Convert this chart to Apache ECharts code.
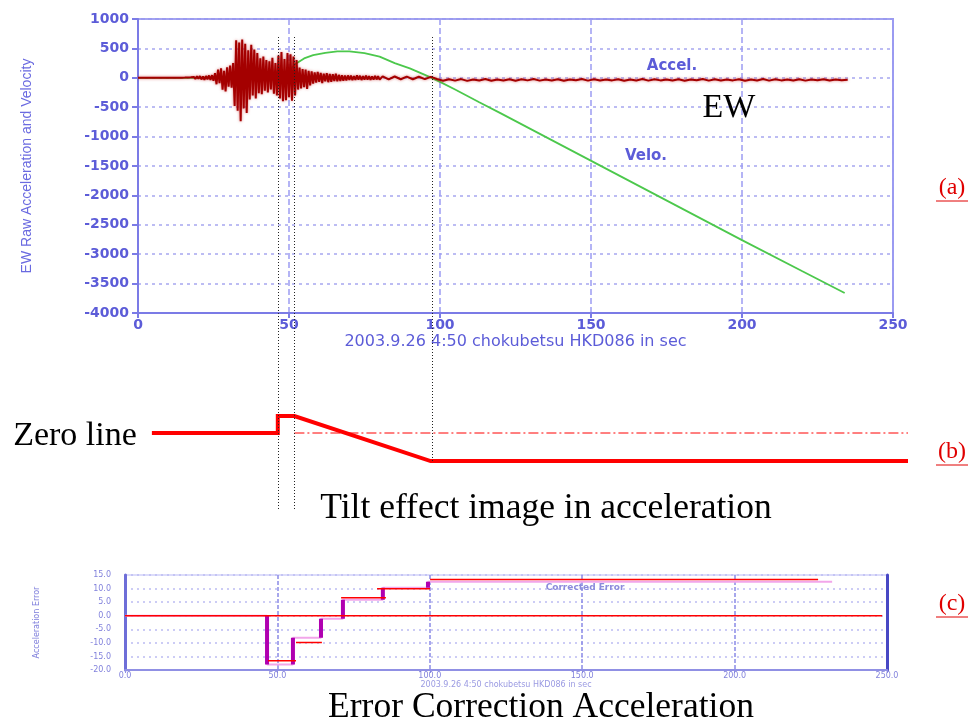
<!DOCTYPE html>
<html>
<head>
<meta charset="utf-8">
<script src="https://cdn.jsdelivr.net/npm/echarts@6/dist/echarts.min.js"></script>
<style>
html,body{margin:0;padding:0;background:#fff}
#main{width:971px;height:724px}
</style>
</head>
<body>
<div id="main"></div>
<script>
// ---- (a) EW raw acceleration record, 0.5 s samples from 15 s to 80 s ----
const accelT0 = 15, accelDt = 0.5;
const accelDense = [
  0, 3, -4, 5, -6, 8, -10,
  15, -20, 25, -18, 30, -28, 22, -35, 30, -25, 40, -38, 45, -50,
  80, -110, 140, -90, 160, -200, 120, -230, 180, -150, 210, -170, 250,
  -480, 640, -560, 600, -740, 650, -520, 580, -600, 470,
  -370, 560, -300, 480, -350, 420, -260,
  330, -280, 360, -220, 300, -250, 280, -200, 340, -270, 250, -300,
  380, -350, 440, -400, 320, -380, 420, -330, 400, -390, 360, -300, 300,
  -200, 175, -180, 150, -160, 140, -190, 120, -130, 110, -100,
  90, -80, 100, -70, 85, -90, 70, -60, 80, -75, 65, -70, 60, -55, 70, -60, 50, -55, 45, -50, 40, -45,
  40, -35, 38, -40, 30, -35, 42, -30, 35, -38, 28, -32, 36, -30, 30, -34, 25, -30, 32, -28, 26, -30
];
// coda of the record, 2 s samples from 81 s to 235 s
const accelTailT0 = 81, accelTailDt = 2;
const accelTail = [
  25, -28, 22, -25, 20, -24, 18, -22, 15,
  -20, -50, -25, -48, -22, -52, -28, -45, -20, -50,
  -30, -46, -24, -50, -26, -44, -22, -48, -30, -45,
  -25, -50, -28, -42, -22, -48, -26, -46, -30, -44,
  -24, -50, -28, -45, -22, -48, -26, -44, -30, -46,
  -24, -50, -28, -42, -22, -48, -26, -46, -30, -44,
  -24, -50, -28, -45, -22, -48, -26, -44, -30, -46,
  -24, -48, -28, -42, -26, -45, -30, -40, -35
];

// integrated velocity
const veloT = [0, 18, 25, 30, 33, 36, 39, 42, 45, 48, 50, 52, 55, 58, 62, 66, 70, 75, 80, 85, 90, 95, 100, 105, 113, 120, 140, 160, 180, 200, 220, 234];
const veloV = [0, 0, 5, -20, 30, -40, 20, -30, 40, 60, 110, 230, 330, 385, 425, 450, 450, 420, 360, 250, 160, 50, -70, -200, -415, -600, -1140, -1680, -2220, -2760, -3290, -3660];

// ---- (b) tilt effect sketch ----
const tiltT = [4.6, 46.3, 46.3, 51.8, 96.9, 255];
const tiltV = [0, 0, 1, 1, -1.65, -1.65];
const zeroLineT = [51.8, 255];
// instants marked by the dotted guides
const guideT = [46.3, 51.8, 97.2];

// ---- (c) error correction staircase ----
const corrT = [0, 46.6, 55.1, 64.3, 71.5, 84.6, 99.4, 232];
const corrV = [0, -18, -8.1, -1.1, 5.9, 10.3, 12.5];
const fitStart = [46.9, 56.1, 70.9, 82.7, 100.1];
const fitEnd = [56.1, 64.6, 85.6, 100.1, 227.4];
const fitLevel = [-16.6, -9.9, 6.6, 9.9, 13.3];
const baseT = [0, 248.4];

const BLUE = '#5c5cd8';
const PALE = '#a6a6ef';

const accelData = [[0, 0], [14.5, 0]]
  .concat(accelDense.map((v, i) => [accelT0 + i * accelDt, v]))
  .concat(accelTail.map((v, i) => [accelTailT0 + i * accelTailDt, v]));
const veloData = veloT.map((t, i) => [t, veloV[i]]);
const tiltData = tiltT.map((t, i) => [t, tiltV[i]]);

const stairData = [];
const riserData = [];
for (let i = 0; i < corrV.length; i++) {
  stairData.push([corrT[i], corrV[i]], [corrT[i + 1], corrV[i]]);
  if (i > 0) riserData.push([corrT[i], corrV[i - 1]], [corrT[i], corrV[i]], '-');
}
const fitData = [];
fitStart.forEach((s, i) => fitData.push([s, fitLevel[i]], [fitEnd[i], fitLevel[i]], '-'));

const chart = echarts.init(document.getElementById('main'), null, {renderer: 'canvas'});

const serifText = (text, x, y, size, color) => ({
  type: 'text', x: x, y: y,
  style: {text: text, fill: color || '#000', font: size + 'px "Liberation Serif"', textAlign: 'center', textVerticalAlign: 'middle'}
});
const tag = (text, y) => [
  serifText(text, 952, y, 24, '#e00000'),
  {type: 'line', shape: {x1: 936, y1: y + 13, x2: 968, y2: y + 13}, style: {stroke: '#e00000', lineWidth: 1}}
];

chart.setOption({
  backgroundColor: '#ffffff',
  animation: false,
  grid: [
    {left: 138, top: 19, width: 755, height: 294, show: true, borderColor: '#9a9af0', borderWidth: 2},
    {left: 138, top: 416, width: 770, height: 51},
    {left: 125, top: 575, width: 762, height: 95, show: true, borderColor: '#dcdcfa', borderWidth: 2}
  ],
  xAxis: [
    {
      type: 'value', gridIndex: 0, min: 0, max: 250, interval: 50,
      axisLine: {onZero: false, lineStyle: {color: '#7b7be6', width: 2}},
      axisTick: {show: true, length: 5, lineStyle: {color: '#7b7be6', width: 2}},
      axisLabel: {color: BLUE, fontSize: 14, fontWeight: 'bold', fontFamily: 'DejaVu Sans', margin: 5},
      splitLine: {show: true, lineStyle: {color: '#9c9cf2', width: 1.5, type: [6, 3]}},
      name: '2003.9.26 4:50 chokubetsu HKD086 in sec', nameLocation: 'middle', nameGap: 21,
      nameTextStyle: {color: BLUE, fontSize: 16, fontFamily: 'DejaVu Sans'}
    },
    {type: 'value', gridIndex: 1, min: 0, max: 255, show: false},
    {
      type: 'value', gridIndex: 2, min: 0, max: 250, interval: 50,
      axisLine: {onZero: false, lineStyle: {color: '#9090e4', width: 2}},
      axisTick: {show: true, length: 3, lineStyle: {color: '#9090e4'}},
      axisLabel: {color: '#8282dc', fontSize: 8, fontFamily: 'DejaVu Sans', margin: 2, formatter: v => v.toFixed(1)},
      splitLine: {show: true, lineStyle: {color: '#8a8ae6', width: 1.5, type: [4, 2]}},
      name: '2003.9.26 4:50 chokubetsu HKD086 in sec', nameLocation: 'middle', nameGap: 5,
      nameTextStyle: {color: '#9a9ae2', fontSize: 8, fontFamily: 'DejaVu Sans'}
    }
  ],
  yAxis: [
    {
      type: 'value', gridIndex: 0, min: -4000, max: 1000, interval: 500,
      axisLine: {show: true, onZero: false, lineStyle: {color: '#7b7be6', width: 2}},
      axisTick: {show: true, length: 6, lineStyle: {color: '#7b7be6', width: 2}},
      axisLabel: {color: BLUE, fontSize: 14, fontWeight: 'bold', fontFamily: 'DejaVu Sans', margin: 9, formatter: v => String(v)},
      splitLine: {show: true, lineStyle: {color: PALE, width: 1.5, type: [3, 4]}},
      name: 'EW Raw Acceleration and Velocity', nameLocation: 'middle', nameRotate: 90, nameGap: 104,
      nameTextStyle: {color: '#6a6ae0', fontSize: 14, fontFamily: 'Liberation Sans'}
    },
    {type: 'value', gridIndex: 1, min: -2, max: 1, show: false},
    {
      type: 'value', gridIndex: 2, min: -20, max: 15, interval: 5,
      axisLine: {show: true, onZero: false, lineStyle: {color: '#6e6ed8', width: 3}},
      axisTick: {show: false},
      axisLabel: {color: '#8282dc', fontSize: 8, fontFamily: 'DejaVu Sans', margin: 14, formatter: v => v.toFixed(1)},
      splitLine: {show: true, lineStyle: {color: '#bcbcf2', width: 1.5, type: [2, 4]}},
      name: 'Acceleration Error', nameLocation: 'middle', nameRotate: 90, nameGap: 84,
      nameTextStyle: {color: '#8080dc', fontSize: 8, fontFamily: 'DejaVu Sans'}
    },
    {
      type: 'value', gridIndex: 2, min: -20, max: 15, position: 'right',
      axisLine: {show: true, onZero: false, lineStyle: {color: '#4848c4', width: 3}},
      axisTick: {show: false}, axisLabel: {show: false}, splitLine: {show: false}
    }
  ],
  series: [
    {
      name: 'Velo.', type: 'line', xAxisIndex: 0, yAxisIndex: 0, data: veloData,
      showSymbol: false, lineStyle: {color: '#4cc84c', width: 1.8}, z: 3
    },
    {
      name: 'Accel.', type: 'line', xAxisIndex: 0, yAxisIndex: 0, data: accelData,
      showSymbol: false,
      lineStyle: {color: '#a40000', width: 2, shadowBlur: 3, shadowColor: 'rgba(190,0,0,0.55)'}, z: 4
    },
    {
      name: 'Zero line', type: 'line', xAxisIndex: 1, yAxisIndex: 1,
      data: zeroLineT.map(t => [t, 0]), showSymbol: false,
      lineStyle: {color: '#ff0000', width: 1, type: [10, 3, 2, 3]}
    },
    {
      name: 'Tilt effect', type: 'line', xAxisIndex: 1, yAxisIndex: 1, data: tiltData,
      showSymbol: false, lineStyle: {color: '#ff0000', width: 4, join: 'miter'}
    },
    {
      name: 'Error', type: 'line', xAxisIndex: 2, yAxisIndex: 2, data: stairData,
      showSymbol: false, lineStyle: {color: '#f2a6ea', width: 2}
    },
    {
      name: 'Error steps', type: 'line', xAxisIndex: 2, yAxisIndex: 2, data: riserData,
      showSymbol: false, connectNulls: false, lineStyle: {color: '#b000b0', width: 4}
    },
    {
      name: 'Base', type: 'line', xAxisIndex: 2, yAxisIndex: 2, data: baseT.map(t => [t, 0]),
      showSymbol: false, lineStyle: {color: '#ff0000', width: 1.5}, z: 5
    },
    {
      name: 'Correction', type: 'line', xAxisIndex: 2, yAxisIndex: 2, data: fitData,
      showSymbol: false, connectNulls: false, lineStyle: {color: '#ff0000', width: 1.5}, z: 5
    }
  ],
  graphic: [
    {type: 'text', x: 672, y: 66, style: {text: 'Accel.', fill: BLUE, font: 'bold 15px "DejaVu Sans"', textAlign: 'center', textVerticalAlign: 'middle'}},
    {type: 'text', x: 646, y: 156, style: {text: 'Velo.', fill: BLUE, font: 'bold 15px "DejaVu Sans"', textAlign: 'center', textVerticalAlign: 'middle'}},
    serifText('EW', 729, 108, 34),
    serifText('Zero line', 75, 436, 34),
    serifText('Tilt effect image in acceleration', 546, 509, 35.5),
    serifText('Error Correction Acceleration', 541, 708, 35.5),
    {type: 'text', x: 585, y: 588, style: {text: 'Corrected Error', fill: '#8c8cdc', font: 'bold 9px "DejaVu Sans"', textAlign: 'center', textVerticalAlign: 'middle'}}
  ].concat(tag('(a)', 188), tag('(b)', 452), tag('(c)', 604))
});

// dotted guides dropped from the upper record through the tilt sketch
const guideBottom = [510, 510, 462];
const guides = guideT.map((t, i) => {
  const x = Math.round(chart.convertToPixel({xAxisIndex: 0}, t)) + 0.5;
  return {
    type: 'line', z: 10,
    shape: {x1: x, y1: 37, x2: x, y2: guideBottom[i]},
    style: {stroke: '#222', lineWidth: 1, lineDash: [1, 2]}
  };
});
const opt = chart.getOption();
chart.setOption({graphic: opt.graphic[0].elements.concat(guides)}, {replaceMerge: ['graphic']});
</script>
</body>
</html>
